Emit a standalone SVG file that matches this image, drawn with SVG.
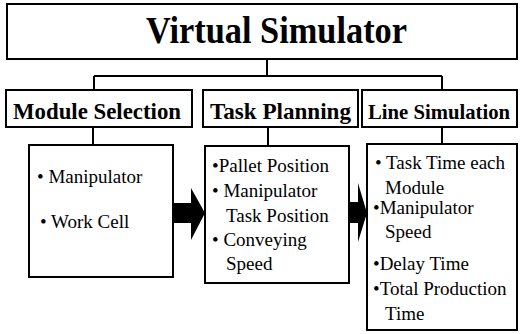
<svg xmlns="http://www.w3.org/2000/svg" width="520" height="334" viewBox="0 0 520 334">
<style>
.box{fill:#fff;stroke:#000;stroke-width:2}
.ln{fill:none;stroke:#000;stroke-width:2}
.ar{fill:#000}
text{font-family:'Liberation Serif','DejaVu Serif',serif;fill:#000}
.title{font-size:38px;font-weight:bold}
.hd{font-size:24px;font-weight:bold}
.hd2{font-size:21px;font-weight:bold}
.it{font-size:19px}
</style>
<rect width="520" height="334" fill="#fff"/>
<g id="connectors">
<path class="ln" d="M267,59 V76 M94,76 H442 M94,76 V90 M442,76 V90 M93,127 V145 M268,127 V146 M442,127 V144"/>
<polygon class="ar" points="172,203 191,203 191,188 205,213 191,240 191,223 172,223"/>
<polygon class="ar" points="349,202 358,202 358,183 367,213 358,242 358,223 349,223"/>
</g>
<g id="virtual-simulator">
<rect class="box" x="7" y="4" width="510" height="55"/>
<text class="title" x="146" y="43" textLength="261" lengthAdjust="spacingAndGlyphs">Virtual Simulator</text>
</g>
<g id="module-selection">
<rect class="box" x="6" y="90" width="186" height="37"/>
<text class="hd" x="13" y="119" textLength="168" lengthAdjust="spacingAndGlyphs">Module Selection</text>
</g>
<g id="task-planning">
<rect class="box" x="203" y="90" width="155" height="37"/>
<text class="hd" x="210" y="119" textLength="141" lengthAdjust="spacingAndGlyphs">Task Planning</text>
</g>
<g id="line-simulation">
<rect class="box" x="362" y="90" width="155" height="37"/>
<text class="hd2" x="368" y="119" textLength="142" lengthAdjust="spacingAndGlyphs">Line Simulation</text>
</g>
<g id="module-items">
<rect class="box" x="29" y="145" width="144" height="132"/>
<text class="it" x="37" y="183">• Manipulator</text>
<text class="it" x="40" y="228">• Work Cell</text>
</g>
<g id="task-items">
<rect class="box" x="205" y="146" width="144" height="137"/>
<text class="it" x="212" y="172">•Pallet Position</text>
<text class="it" x="212" y="197">• Manipulator</text>
<text class="it" x="226" y="222">Task Position</text>
<text class="it" x="212" y="246">• Conveying</text>
<text class="it" x="226" y="270">Speed</text>
</g>
<g id="line-items">
<rect class="box" x="367" y="144" width="150" height="186"/>
<text class="it" x="375" y="169">• Task Time each</text>
<text class="it" x="385" y="194">Module</text>
<text class="it" x="373" y="214">•Manipulator</text>
<text class="it" x="385" y="238">Speed</text>
<text class="it" x="373" y="270">•Delay Time</text>
<text class="it" x="373" y="295">•Total Production</text>
<text class="it" x="385" y="320">Time</text>
</g>
</svg>
